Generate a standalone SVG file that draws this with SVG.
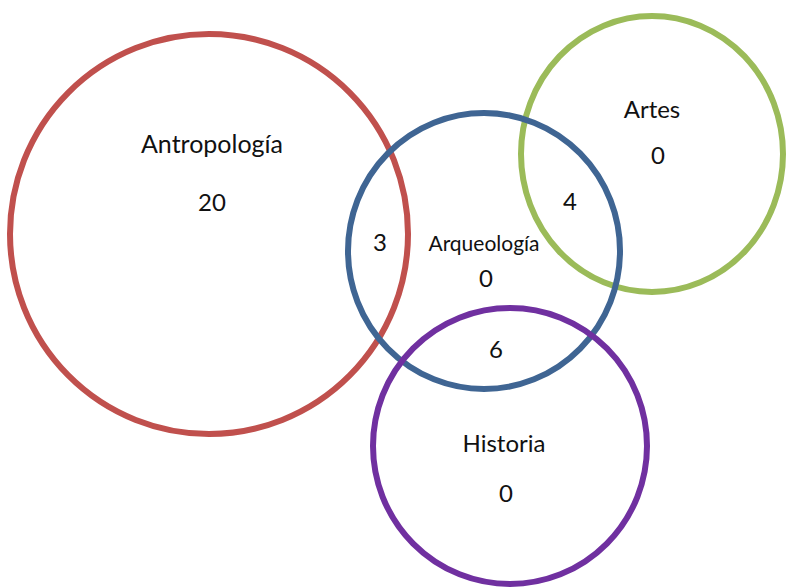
<svg xmlns="http://www.w3.org/2000/svg" width="789" height="587" viewBox="0 0 789 587">
<style>
.c{fill:none;stroke-width:6}
.t{font-family:Lato,"Open Sans","Liberation Sans",sans-serif;font-size:24px;fill:#111;text-anchor:middle}
.s{font-size:21px}
.l{font-size:25px}
</style>
<rect width="789" height="587" fill="#fff"/>
<g id="antropologia">
<ellipse class="c" cx="209" cy="234" rx="199" ry="200" stroke="#C0504D"/>
<text class="t l" x="212" y="153">Antropología</text>
<text class="t" x="212" y="211">20</text>
</g>
<g id="artes">
<ellipse class="c" cx="652" cy="154" rx="131" ry="138" stroke="#9BBB59"/>
<text class="t" x="652" y="118">Artes</text>
<text class="t" x="658" y="164">0</text>
</g>
<g id="arqueologia">
<ellipse class="c" cx="484" cy="251" rx="136" ry="138" stroke="#3F6593"/>
<text class="t s" x="484" y="251">Arqueología</text>
<text class="t" x="486" y="287">0</text>
</g>
<g id="historia">
<ellipse class="c" cx="510" cy="446" rx="137" ry="138" stroke="#7030A0"/>
<text class="t" x="504" y="452">Historia</text>
<text class="t" x="506" y="502">0</text>
</g>
<g id="intersections">
<text class="t" x="380" y="251">3</text>
<text class="t" x="570" y="210">4</text>
<text class="t" x="496" y="358">6</text>
</g>
</svg>
